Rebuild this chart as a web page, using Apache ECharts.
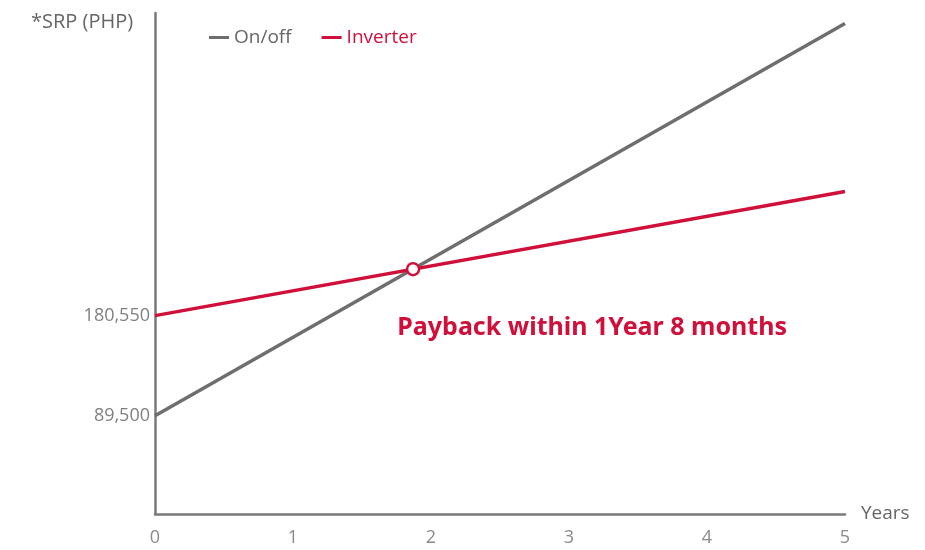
<!DOCTYPE html>
<html>
<head>
<meta charset="utf-8">
<script src="https://cdn.jsdelivr.net/npm/echarts@6/dist/echarts.min.js"></script>
<style>
  html, body { margin: 0; padding: 0; background: #fff; }
  #chart { width: 925px; height: 550px; }
</style>
</head>
<body>
<div id="chart"></div>
<script>
// data
const years = [0, 5];
const onOff = [89500, 446400];
const inverter = [180550, 293500];
const yTicks = [89500, 180550];
const xTicks = [0, 1, 2, 3, 4, 5];
const payback = [1.87, 222800];

const GRAY = "#6e6e6e";
const RED = "#d0103a";

const chart = echarts.init(document.getElementById("chart"));

const option = {
    animation: false,
    grid: { left: 155, right: 80, top: 13, bottom: 36 },
    title: {
        text: "*SRP (PHP)",
        left: 26, top: 7,
        textStyle: { color: "#666", fontSize: 20, fontWeight: "normal", fontFamily: "Open Sans" }
    },
    legend: {
        left: 204, top: 23,
        itemGap: 30,
        itemWidth: 20, itemHeight: 3,
        icon: "rect",
        textStyle: { fontSize: 19, fontFamily: "Open Sans" },
        data: [
            { name: "On/off", textStyle: { color: "#666" } },
            { name: "Inverter", textStyle: { color: RED } }
        ]
    },
    xAxis: {
        type: "value",
        min: 0, max: 5, interval: 1,
        name: "Years",
        nameLocation: "end",
        nameGap: 16,
        nameTextStyle: { color: "#666", fontSize: 19, fontFamily: "Open Sans", verticalAlign: "middle" },
        axisLine: { show: true, lineStyle: { color: "#7a7a7a", width: 2.5 } },
        axisTick: { show: false },
        splitLine: { show: false },
        axisLabel: {
            customValues: xTicks,
            color: "#8a8a8a", fontSize: 18, fontFamily: "Open Sans", margin: 15
        }
    },
    yAxis: {
        type: "value",
        min: 0, max: 456000,
        axisLine: { show: true, lineStyle: { color: "#7a7a7a", width: 2.5 } },
        axisTick: { show: false },
        splitLine: { show: false },
        axisLabel: {
            customValues: yTicks,
            color: "#808080", fontSize: 18, fontFamily: "Open Sans", margin: 5,
            formatter: v => v.toLocaleString("en-US")
        }
    },
    series: [
        {
            name: "On/off", type: "line",
            data: years.map((x, i) => [x, onOff[i]]),
            symbol: "none",
            itemStyle: { color: GRAY },
            lineStyle: { color: GRAY, width: 3.5 }
        },
        {
            name: "Inverter", type: "line",
            data: years.map((x, i) => [x, inverter[i]]),
            symbol: "none",
            itemStyle: { color: RED },
            lineStyle: { color: RED, width: 3.5 }
        },
        {
            type: "scatter",
            data: [payback],
            symbol: "circle", symbolSize: 12,
            itemStyle: { color: "#fff", borderColor: RED, borderWidth: 2.5, opacity: 1 },
            z: 5,
            label: {
                show: true,
                position: "right",
                offset: [-28, 59],
                formatter: "Payback within 1Year 8 months",
                color: RED, fontSize: 25, fontWeight: "bold", fontFamily: "Noto Sans"
            }
        }
    ]
};

chart.setOption(option);
</script>
</body>
</html>
